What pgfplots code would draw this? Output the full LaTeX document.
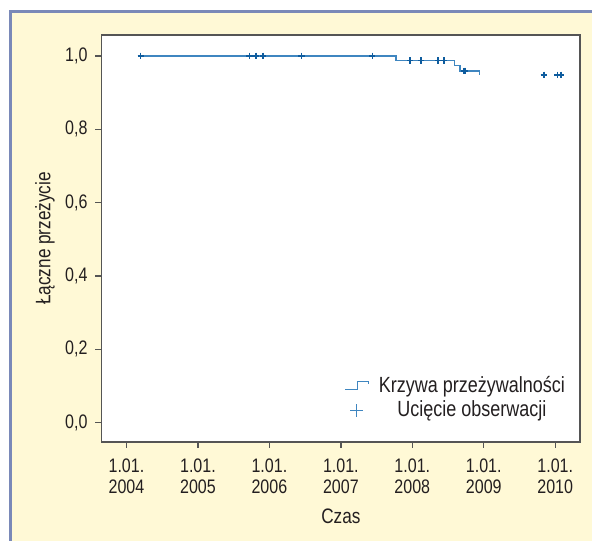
\documentclass[border=0pt]{standalone}
\usepackage{pgfplots}
\pgfplotsset{compat=1.18}
\usepackage{fontspec}
\setmainfont{Liberation Sans}[FakeStretch=0.82]
\definecolor{bgy}{HTML}{FFF9D6}
\definecolor{bord}{HTML}{7A89B8}
\definecolor{txt}{HTML}{231F20}
\definecolor{curve}{HTML}{3F86C0}
\definecolor{cens}{HTML}{0E5C9E}
\definecolor{frame}{HTML}{555555}
\begin{document}
\begin{tikzpicture}[x=0.5pt,y=0.5pt]
\fill[white] (0,0) rectangle (593,542);
\fill[bgy] (10,0) rectangle (593,530);
\draw[bord, line width=1.5pt] (10.75,0) -- (10.75,530.75) -- (593,530.75);
\begin{axis}[
  at={(50.85pt,49.5pt)}, anchor=south west,
  width=240pt, height=204pt, scale only axis,
  xmin=2003.65, xmax=2010.35, ymin=-0.052, ymax=1.057,
  axis background/.style={fill=white},
  axis line style={frame, line width=0.8pt},
  xtick={2004,2005,2006,2007,2008,2009,2010},
  xticklabels={{1.01.\\2004},{1.01.\\2005},{1.01.\\2006},{1.01.\\2007},{1.01.\\2008},{1.01.\\2009},{1.01.\\2010}},
  ytick={0,0.2,0.4,0.6,0.8,1},
  yticklabels={{0,0},{0,2},{0,4},{0,6},{0,8},{1,0}},
  tick align=outside, xtick pos=bottom, ytick pos=left,
  major tick length=3pt, tick style={frame, line width=0.7pt},
  ticklabel style={font=\fontsize{9.8}{10.5}\selectfont, text=txt},
  xticklabel style={align=center, font=\fontsize{9.8}{10.6}\selectfont, yshift=-2pt},
  yticklabel style={xshift=-0.5pt},
  xlabel={Czas}, ylabel={Łączne przeżycie},
  label style={font=\fontsize{10.5}{12}\selectfont, text=txt},
  xlabel style={at={(rel axis cs:0.5,0)}, anchor=center, yshift=-37.5pt},
  ylabel style={at={(rel axis cs:-0.118,0.5)}, anchor=center},
  legend style={at={(rel axis cs:0.741,0.108)}, anchor=center, draw=none, fill=none,
    font=\fontsize{11}{12}\selectfont, text=txt, row sep=0pt, nodes={inner sep=1.5pt}},
  legend cell align=center,
]
\addplot[const plot, curve, line width=0.75pt,
  legend image code/.code={\draw[curve, line width=0.6pt] (0pt,-2pt) -- (6pt,-2pt) -- (6pt,2pt) -- (11.5pt,2pt) -- (11.5pt,0.5pt); \path (15pt,0pt);}]
  coordinates {(2004.16,1.0) (2007.77,0.987) (2008.59,0.973) (2008.67,0.959) (2008.94,0.948)};
\addlegendentry{Krzywa przeżywalności}
\addplot[only marks, mark=+, mark size=1.6pt, cens, mark options={line width=0.75pt},
  legend image code/.code={\draw[curve, line width=0.5pt] plot[mark=+, mark size=3.2pt] coordinates {(5.75pt,0pt)}; \path (0pt,0pt) (15pt,0pt);}]
  coordinates {
  (2004.20,1.0) (2005.72,1.0) (2005.81,1.0) (2005.91,1.0) (2006.45,1.0) (2007.44,1.0)
  (2007.97,0.987) (2008.12,0.987) (2008.36,0.987) (2008.44,0.987)
  (2008.72,0.959) (2008.74,0.959)
  (2009.84,0.948) (2010.03,0.948) (2010.08,0.948)};
\addlegendentry{Ucięcie obserwacji}
\end{axis}
\end{tikzpicture}
\end{document}
